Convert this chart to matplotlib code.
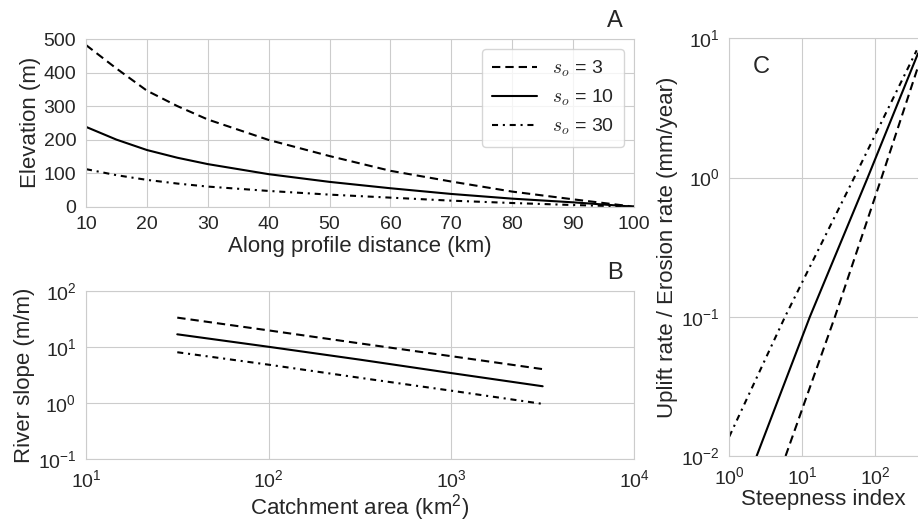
import matplotlib
matplotlib.use('Agg')
import matplotlib.pyplot as plt
import seaborn as sns

sns.set_style('whitegrid')
plt.rcParams['font.family'] = ['Liberation Sans', 'DejaVu Sans']
plt.rcParams['mathtext.fontset'] = 'cm'
plt.rcParams['axes.unicode_minus'] = False

# panel A: long profiles
dist = [10, 15, 20, 25, 30, 40, 50, 60, 70, 80, 90, 100]
elev_s3 = [482, 412, 346, 300, 260, 199, 151, 107, 75, 45, 22, 0]
elev_s10 = [238, 200, 169, 146, 127, 97, 74, 55, 38, 24, 13, 0]
elev_s30 = [112, 94, 80, 69, 60, 47, 36, 27, 18, 11, 5, 0]

# panel B: slope-area
area = [31.6, 100, 316, 1000, 3162]
slope_s3 = [33.1, 19.6, 11.5, 6.8, 4.0]
slope_s10 = [16.7, 10.0, 5.9, 3.4, 1.98]
slope_s30 = [8.0, 4.8, 2.8, 1.65, 0.96]

# panel C: erosion rate vs steepness
ks_s3 = [5.9, 28, 122, 385]
rate_s3 = [0.01, 0.1, 1.0, 6.25]
ks_s10 = [2.37, 12.7, 78.7, 385]
rate_s10 = [0.01, 0.1, 1.0, 7.8]
ks_s30 = [1, 5.8, 51.5, 369]
rate_s30 = [0.0138, 0.1, 1.0, 8.2]

labels = ['$s_o$ = 3', '$s_o$ = 10', '$s_o$ = 30']
styles = [(0, (4, 2.4)), '-', (0, (2.9, 2.3, 1, 2.3))]

fig = plt.figure(figsize=(9.18, 5.25), dpi=100)
W, H = 918., 525.
axA = fig.add_axes([86 / W, 1 - 206.7 / H, (634 - 86) / W, (206.7 - 39) / H])
axB = fig.add_axes([86 / W, 1 - 459 / H, (634 - 86) / W, (459 - 290.7) / H])
axC = fig.add_axes([729.3 / W, 1 - 456 / H, (918 - 729.3) / W, (456 - 38.3) / H])

fs = 14
lfs = 16
for y, ls, lab in zip([elev_s3, elev_s10, elev_s30], styles, labels):
    axA.plot(dist, y, linestyle=ls, color='k', lw=1.5, label=lab)
axA.set_xlim(10, 100)
axA.set_ylim(0, 500)
axA.set_xticks(range(10, 101, 10))
axA.set_yticks(range(0, 501, 100))
axA.set_xlabel('Along profile distance (km)', fontsize=lfs, labelpad=2)
axA.set_ylabel('Elevation (m)', fontsize=lfs, labelpad=2)
axA.legend(fontsize=fs, handlelength=2.3, handletextpad=0.8, labelspacing=0.45,
           borderpad=0.5, loc='upper right', frameon=True)

for y, ls in zip([slope_s3, slope_s10, slope_s30], styles):
    axB.loglog(area, y, linestyle=ls, color='k', lw=1.5)
axB.set_xlim(10, 1e4)
axB.set_ylim(0.1, 100)
axB.set_xlabel('Catchment area (km$\\mathdefault{^2}$)', fontsize=lfs, labelpad=1)
axB.set_ylabel('River slope (m/m)', fontsize=lfs, labelpad=2)

for x, y, ls in zip([ks_s3, ks_s10, ks_s30], [rate_s3, rate_s10, rate_s30], styles):
    axC.loglog(x, y, linestyle=ls, color='k', lw=1.5)
axC.set_xlim(1, 10 ** 2.585)
axC.set_ylim(0.01, 10)
axC.set_xlabel('Steepness index', fontsize=lfs, labelpad=1)
axC.set_ylabel('Uplift rate / Erosion rate (mm/year)', fontsize=lfs, labelpad=2)
axC.spines['right'].set_visible(False)

for ax in (axA, axB, axC):
    ax.tick_params(labelsize=fs)
    ax.minorticks_off()

fig.text(615 / W, 1 - 21 / H, 'A', fontsize=17, ha='center', va='center')
fig.text(615 / W, 1 - 273 / H, 'B', fontsize=17, ha='center', va='center')
fig.text(761 / W, 1 - 67 / H, 'C', fontsize=17, ha='center', va='center')

fig.savefig('out.png', dpi=100)
